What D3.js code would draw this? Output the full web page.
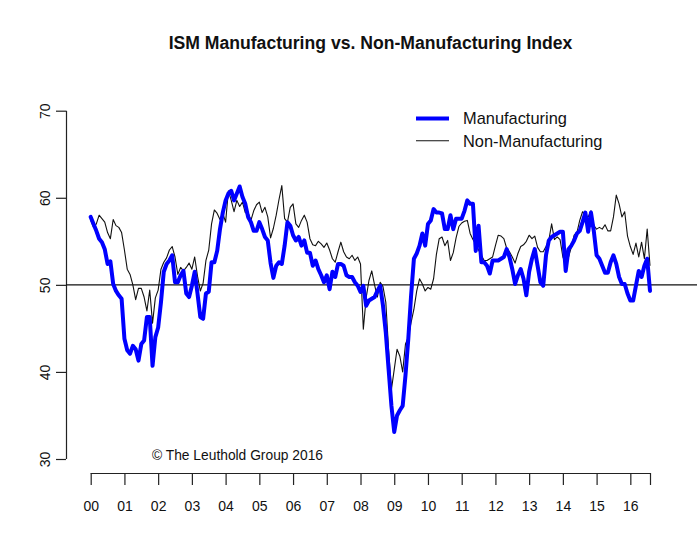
<!DOCTYPE html>
<html>
<head>
<meta charset="utf-8">
<script src="https://cdn.jsdelivr.net/npm/d3@7"></script>
<style>
  html, body { margin: 0; padding: 0; background: #fff; }
  svg { display: block; font-family: "Liberation Sans", Arial, Helvetica, sans-serif; }
</style>
</head>
<body>
<svg id="chart" width="699" height="533"></svg>
<script>
// Monthly index values, Jan 2000 .. Aug 2016
const manufacturing = [
  57.8, 57.0, 56.2, 55.3, 54.9, 54.1, 52.4, 52.7, 50.1, 49.3, 48.8, 48.4,
  43.8, 42.5, 42.1, 43.0, 42.6, 41.3, 43.2, 43.6, 46.3, 46.3, 40.7, 44.0,
  45.1, 48.0, 51.5, 52.4, 52.8, 53.4, 50.3, 50.3, 51.1, 51.6, 49.0, 48.6,
  49.9, 51.5, 49.0, 46.3, 46.1, 49.0, 49.2, 52.6, 52.6, 53.9, 56.4, 58.3,
  59.7, 60.5, 60.8, 59.7, 60.5, 61.3, 60.1, 59.3, 57.8, 57.2, 56.2, 56.2,
  57.2, 56.4, 55.5, 55.1, 52.5, 50.8, 52.2, 52.6, 52.4, 54.5, 57.2, 56.8,
  55.7, 55.1, 55.5, 54.5, 55.1, 53.7, 53.7, 52.2, 52.8, 51.8, 51.1, 50.3,
  51.1, 49.5, 51.5, 50.9, 52.4, 52.4, 52.2, 51.1, 50.9, 50.9, 50.3, 49.9,
  49.2, 49.9, 47.6, 48.2, 48.4, 48.6, 49.3, 49.9, 47.6, 44.5, 40.3, 36.1,
  33.1, 35.0, 35.6, 36.1, 39.6, 43.8, 48.8, 53.0, 53.6, 54.5, 55.9, 54.5,
  57.0, 57.4, 58.7, 58.3, 58.3, 58.2, 56.4, 56.4, 58.0, 56.4, 57.6, 57.6,
  57.6, 58.5, 59.7, 59.3, 59.3, 53.9, 56.8, 52.6, 52.6, 52.2, 51.3, 52.8,
  52.8, 52.8, 53.0, 53.2, 54.1, 53.2, 51.8, 50.1, 51.1, 51.8, 50.7, 48.8,
  51.5, 53.0, 54.1, 52.2, 50.3, 49.9, 53.4, 55.1, 55.5, 55.7, 55.9, 56.1,
  56.1, 51.6, 54.1, 54.5, 55.1, 55.9, 56.2, 57.2, 58.3, 56.1, 58.3, 56.2,
  53.4, 53.0, 52.2, 51.4, 51.4, 52.6, 53.4, 52.4, 50.9, 50.1, 50.1, 49.0,
  48.2, 48.2, 49.9, 51.6, 50.9, 52.2, 53.0, 49.3
];

const nonManufacturing = [
  57.4, 56.6, 57.0, 58.0, 57.6, 57.2, 56.0, 55.3, 57.5, 56.8, 56.6, 56.0,
  54.0, 51.8, 51.2, 50.0, 48.3, 49.6, 49.6, 48.6, 47.0, 49.4, 45.6, 48.5,
  49.4, 51.8, 52.6, 53.1, 54.0, 54.4, 53.2, 51.2, 52.0, 51.6, 52.0, 52.5,
  51.8, 53.2, 51.0, 49.3, 50.2, 52.8, 54.0, 57.0, 58.6, 58.2, 57.5, 58.2,
  57.2, 60.8, 59.7, 58.4, 59.7, 59.0, 59.5, 58.3, 58.3, 57.4, 58.5, 59.2,
  59.5, 58.3, 58.9, 57.8, 55.4, 56.5, 58.0, 59.8, 61.4, 57.6, 57.2, 58.9,
  59.3, 57.0, 56.6, 57.4, 58.0, 57.2, 55.3, 54.6, 54.5, 55.0, 54.7, 54.3,
  54.8, 54.0, 53.0, 52.6, 53.8, 54.9, 53.8, 53.2, 53.0, 53.4, 52.8, 53.2,
  52.4, 44.9, 48.5, 50.5, 51.6, 50.0, 48.6, 50.3, 49.8, 48.0, 42.5, 38.0,
  40.3, 42.6, 41.8, 40.0, 43.2, 44.0, 45.7, 47.2, 49.3, 50.7, 50.1, 49.3,
  49.7, 49.5, 50.7, 53.5, 55.3, 55.5, 54.5, 55.1, 52.8, 53.7, 55.4, 56.7,
  57.1, 57.3, 57.4, 55.9, 55.2, 54.7, 54.0, 53.4, 52.8, 52.8, 53.0, 53.2,
  54.5, 55.7, 55.6, 55.3, 54.2, 53.8, 53.2, 52.5, 53.6, 54.4, 54.6, 55.0,
  55.7, 55.3, 55.6, 54.3, 53.8, 53.8, 54.4, 55.1, 57.0, 55.2, 55.5, 55.2,
  53.2, 52.4, 53.2, 54.3, 55.7, 56.0, 57.4, 58.4, 58.0, 57.8, 58.5, 56.8,
  56.4, 56.6, 56.4, 56.9, 56.2, 56.2, 57.8, 60.3, 59.3, 57.8, 58.4, 55.6,
  54.4, 53.5, 54.8, 53.2, 54.9, 53.0, 56.4, 52.2
];

const yearLabels = ["00", "01", "02", "03", "04", "05", "06", "07", "08",
                    "09", "10", "11", "12", "13", "14", "15", "16"];
const yTicks = [30, 40, 50, 60, 70];
const seriesNames = ["Manufacturing", "Non-Manufacturing"];

const svg = d3.select("#chart");
const lastIdx = manufacturing.length - 1;

// Scales
const x = d3.scaleLinear().domain([0, lastIdx]).range([90.7, 650]);
const y = d3.scaleLinear().domain([30, 70]).range([459, 110.7]);

// -----------------------------
// Title
// -----------------------------
svg.append("text")
    .attr("x", 370.5)
    .attr("y", 49)
    .attr("text-anchor", "middle")
    .attr("font-size", 17.6)
    .attr("font-weight", "bold")
    .attr("fill", "#111")
    .text("ISM Manufacturing vs. Non-Manufacturing Index");

// -----------------------------
// Y axis (labels rotated, like base R)
// -----------------------------
const yAxisG = svg.append("g")
    .attr("transform", "translate(66,0)")
    .call(d3.axisLeft(y).tickValues(yTicks).tickSize(10).tickPadding(0).tickFormat(d3.format("d")));
yAxisG.select(".domain").attr("stroke", "#222").attr("stroke-width", 1.2)
    .attr("d", `M0.5,${y(30)}V${y(70)}`);
yAxisG.selectAll(".tick line").attr("stroke", "#222").attr("stroke-width", 1.2);
yAxisG.selectAll(".tick text")
    .attr("font-size", 14)
    .attr("fill", "#111")
    .attr("x", 0).attr("dy", 0)
    .attr("text-anchor", "middle")
    .attr("transform", "translate(-21,0) rotate(-90)")
    .attr("dominant-baseline", "central");

// -----------------------------
// X axis (one tick per January, plus an end tick)
// -----------------------------
const xTickIdx = yearLabels.map((_, i) => i * 12).concat([lastIdx]);
const xAxisG = svg.append("g")
    .attr("transform", "translate(0,473)")
    .call(d3.axisBottom(x).tickValues(xTickIdx).tickSize(12).tickPadding(16)
        .tickFormat((d, i) => yearLabels[i] || ""));
xAxisG.select(".domain").attr("stroke", "#222").attr("stroke-width", 1.2)
    .attr("d", `M${x(0)},0.5H${x(lastIdx)}`);
xAxisG.selectAll(".tick line").attr("stroke", "#222").attr("stroke-width", 1.2);
xAxisG.selectAll(".tick text").attr("font-size", 14).attr("fill", "#111");

// -----------------------------
// Reference line at 50
// -----------------------------
svg.append("line")
    .attr("x1", 66).attr("x2", 697)
    .attr("y1", y(50)).attr("y2", y(50))
    .attr("stroke", "#111")
    .attr("stroke-width", 1.2);

// -----------------------------
// Series lines
// -----------------------------
const line = d3.line()
    .x((d, i) => x(i))
    .y(d => y(d));

svg.append("path")
    .datum(nonManufacturing)
    .attr("fill", "none")
    .attr("stroke", "#111")
    .attr("stroke-width", 1.1)
    .attr("stroke-linejoin", "round")
    .attr("d", line);

svg.append("path")
    .datum(manufacturing)
    .attr("fill", "none")
    .attr("stroke", "#0000ff")
    .attr("stroke-width", 4)
    .attr("stroke-linejoin", "round")
    .attr("stroke-linecap", "round")
    .attr("d", line);

// -----------------------------
// Legend
// -----------------------------
const legend = svg.append("g").attr("transform", "translate(416,0)");
const legendRows = [
    { name: seriesNames[0], color: "#0000ff", width: 4, y: 118.5 },
    { name: seriesNames[1], color: "#111", width: 1.1, y: 140.7 }
];
legendRows.forEach(r => {
    legend.append("line")
        .attr("x1", 0).attr("x2", 33)
        .attr("y1", r.y).attr("y2", r.y)
        .attr("stroke", r.color)
        .attr("stroke-width", r.width);
    legend.append("text")
        .attr("x", 47)
        .attr("y", r.y)
        .attr("dy", "0.36em")
        .attr("font-size", 16.4)
        .attr("fill", "#111")
        .text(r.name);
});

// -----------------------------
// Copyright note
// -----------------------------
svg.append("text")
    .attr("x", 152)
    .attr("y", 460)
    .attr("font-size", 13.8)
    .attr("fill", "#111")
    .text("\u00A9 The Leuthold Group 2016");
</script>
</body>
</html>
